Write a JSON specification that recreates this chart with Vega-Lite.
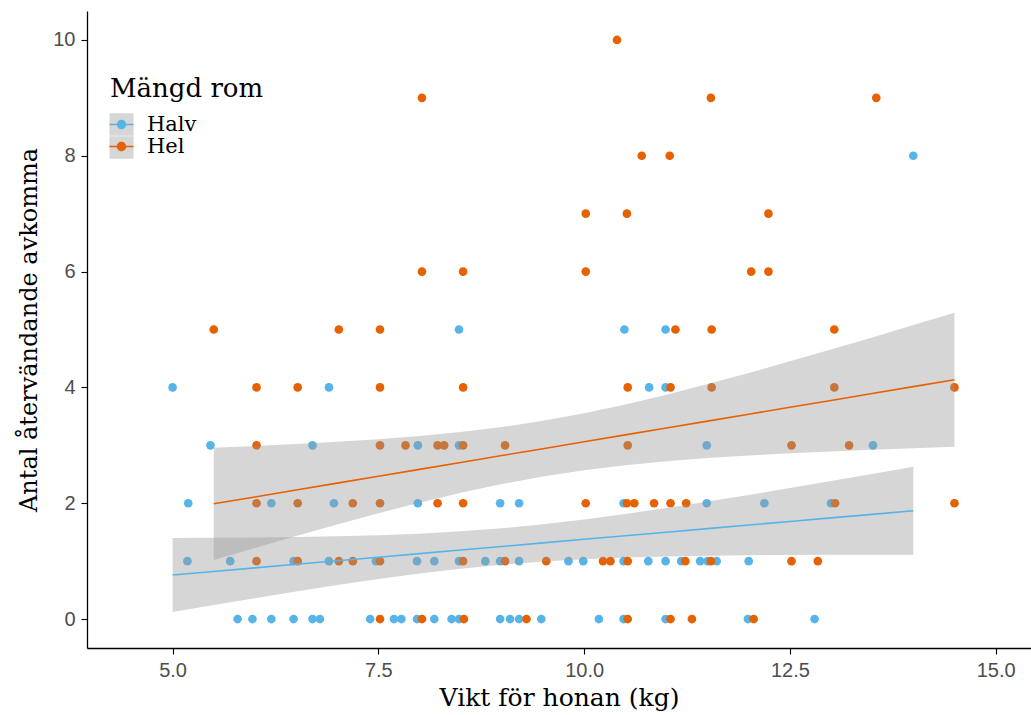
{
  "$schema": "https://vega.github.io/schema/vega-lite/v6.json",
  "width": 944,
  "height": 637,
  "autosize": {"type": "none"},
  "padding": {"left": 87, "top": 11, "right": 0, "bottom": 67},
  "background": "white",
  "datasets": {
    "pts": [
      {"x":5.79,"y":0,"g":"Halv"},{"x":5.97,"y":0,"g":"Halv"},{"x":6.20,"y":0,"g":"Halv"},{"x":6.47,"y":0,"g":"Halv"},{"x":6.70,"y":0,"g":"Halv"},{"x":6.79,"y":0,"g":"Halv"},{"x":7.40,"y":0,"g":"Halv"},{"x":7.69,"y":0,"g":"Halv"},{"x":7.78,"y":0,"g":"Halv"},{"x":7.97,"y":0,"g":"Halv"},{"x":8.18,"y":0,"g":"Halv"},{"x":8.39,"y":0,"g":"Halv"},{"x":8.48,"y":0,"g":"Halv"},{"x":8.98,"y":0,"g":"Halv"},{"x":9.10,"y":0,"g":"Halv"},{"x":9.21,"y":0,"g":"Halv"},{"x":9.48,"y":0,"g":"Halv"},{"x":10.18,"y":0,"g":"Halv"},{"x":10.48,"y":0,"g":"Halv"},{"x":10.99,"y":0,"g":"Halv"},{"x":11.99,"y":0,"g":"Halv"},{"x":12.80,"y":0,"g":"Halv"},
      {"x":5.18,"y":1,"g":"Halv"},{"x":5.70,"y":1,"g":"Halv"},{"x":6.47,"y":1,"g":"Halv"},{"x":6.90,"y":1,"g":"Halv"},{"x":7.47,"y":1,"g":"Halv"},{"x":7.97,"y":1,"g":"Halv"},{"x":8.18,"y":1,"g":"Halv"},{"x":8.48,"y":1,"g":"Halv"},{"x":8.80,"y":1,"g":"Halv"},{"x":8.98,"y":1,"g":"Halv"},{"x":9.21,"y":1,"g":"Halv"},{"x":9.81,"y":1,"g":"Halv"},{"x":9.99,"y":1,"g":"Halv"},{"x":10.48,"y":1,"g":"Halv"},{"x":10.78,"y":1,"g":"Halv"},{"x":10.99,"y":1,"g":"Halv"},{"x":11.18,"y":1,"g":"Halv"},{"x":11.41,"y":1,"g":"Halv"},{"x":11.50,"y":1,"g":"Halv"},{"x":11.61,"y":1,"g":"Halv"},{"x":12.00,"y":1,"g":"Halv"},
      {"x":5.19,"y":2,"g":"Halv"},{"x":6.20,"y":2,"g":"Halv"},{"x":6.96,"y":2,"g":"Halv"},{"x":7.98,"y":2,"g":"Halv"},{"x":8.98,"y":2,"g":"Halv"},{"x":9.21,"y":2,"g":"Halv"},{"x":10.48,"y":2,"g":"Halv"},{"x":11.49,"y":2,"g":"Halv"},{"x":12.19,"y":2,"g":"Halv"},{"x":13.00,"y":2,"g":"Halv"},
      {"x":5.46,"y":3,"g":"Halv"},{"x":6.70,"y":3,"g":"Halv"},{"x":7.98,"y":3,"g":"Halv"},{"x":8.48,"y":3,"g":"Halv"},{"x":11.49,"y":3,"g":"Halv"},{"x":13.51,"y":3,"g":"Halv"},
      {"x":5.00,"y":4,"g":"Halv"},{"x":6.90,"y":4,"g":"Halv"},{"x":10.79,"y":4,"g":"Halv"},{"x":10.99,"y":4,"g":"Halv"},
      {"x":8.48,"y":5,"g":"Halv"},{"x":10.49,"y":5,"g":"Halv"},{"x":10.99,"y":5,"g":"Halv"},
      {"x":14.00,"y":8,"g":"Halv"},
      {"x":7.52,"y":0,"g":"Hel"},{"x":8.03,"y":0,"g":"Hel"},{"x":8.54,"y":0,"g":"Hel"},{"x":9.30,"y":0,"g":"Hel"},{"x":10.53,"y":0,"g":"Hel"},{"x":11.05,"y":0,"g":"Hel"},{"x":11.31,"y":0,"g":"Hel"},{"x":12.06,"y":0,"g":"Hel"},
      {"x":6.02,"y":1,"g":"Hel"},{"x":6.52,"y":1,"g":"Hel"},{"x":7.02,"y":1,"g":"Hel"},{"x":7.19,"y":1,"g":"Hel"},{"x":7.52,"y":1,"g":"Hel"},{"x":8.53,"y":1,"g":"Hel"},{"x":9.04,"y":1,"g":"Hel"},{"x":9.54,"y":1,"g":"Hel"},{"x":10.23,"y":1,"g":"Hel"},{"x":10.32,"y":1,"g":"Hel"},{"x":10.53,"y":1,"g":"Hel"},{"x":11.23,"y":1,"g":"Hel"},{"x":11.54,"y":1,"g":"Hel"},{"x":12.52,"y":1,"g":"Hel"},{"x":12.84,"y":1,"g":"Hel"},
      {"x":6.02,"y":2,"g":"Hel"},{"x":6.52,"y":2,"g":"Hel"},{"x":7.19,"y":2,"g":"Hel"},{"x":7.52,"y":2,"g":"Hel"},{"x":8.22,"y":2,"g":"Hel"},{"x":8.53,"y":2,"g":"Hel"},{"x":10.02,"y":2,"g":"Hel"},{"x":10.52,"y":2,"g":"Hel"},{"x":10.61,"y":2,"g":"Hel"},{"x":10.85,"y":2,"g":"Hel"},{"x":11.05,"y":2,"g":"Hel"},{"x":11.24,"y":2,"g":"Hel"},{"x":13.05,"y":2,"g":"Hel"},{"x":14.50,"y":2,"g":"Hel"},
      {"x":6.02,"y":3,"g":"Hel"},{"x":7.52,"y":3,"g":"Hel"},{"x":7.83,"y":3,"g":"Hel"},{"x":8.22,"y":3,"g":"Hel"},{"x":8.30,"y":3,"g":"Hel"},{"x":8.53,"y":3,"g":"Hel"},{"x":9.04,"y":3,"g":"Hel"},{"x":10.53,"y":3,"g":"Hel"},{"x":12.52,"y":3,"g":"Hel"},{"x":13.22,"y":3,"g":"Hel"},
      {"x":6.02,"y":4,"g":"Hel"},{"x":6.52,"y":4,"g":"Hel"},{"x":7.52,"y":4,"g":"Hel"},{"x":8.53,"y":4,"g":"Hel"},{"x":10.53,"y":4,"g":"Hel"},{"x":11.05,"y":4,"g":"Hel"},{"x":11.55,"y":4,"g":"Hel"},{"x":13.04,"y":4,"g":"Hel"},{"x":14.50,"y":4,"g":"Hel"},
      {"x":5.50,"y":5,"g":"Hel"},{"x":7.02,"y":5,"g":"Hel"},{"x":7.52,"y":5,"g":"Hel"},{"x":11.11,"y":5,"g":"Hel"},{"x":11.55,"y":5,"g":"Hel"},{"x":13.04,"y":5,"g":"Hel"},
      {"x":8.03,"y":6,"g":"Hel"},{"x":8.53,"y":6,"g":"Hel"},{"x":10.02,"y":6,"g":"Hel"},{"x":12.03,"y":6,"g":"Hel"},{"x":12.24,"y":6,"g":"Hel"},
      {"x":10.02,"y":7,"g":"Hel"},{"x":10.52,"y":7,"g":"Hel"},{"x":12.24,"y":7,"g":"Hel"},
      {"x":10.70,"y":8,"g":"Hel"},{"x":11.04,"y":8,"g":"Hel"},
      {"x":8.03,"y":9,"g":"Hel"},{"x":11.54,"y":9,"g":"Hel"},{"x":13.55,"y":9,"g":"Hel"},
      {"x":10.40,"y":10,"g":"Hel"}
    ],
    "bands": [
      {"x":5.0,"fit":0.760,"lo":0.120,"hi":1.400,"g":"Halv"},
      {"x":5.5,"fit":0.822,"lo":0.241,"hi":1.402,"g":"Halv"},
      {"x":6.0,"fit":0.883,"lo":0.360,"hi":1.407,"g":"Halv"},
      {"x":6.5,"fit":0.945,"lo":0.475,"hi":1.415,"g":"Halv"},
      {"x":7.0,"fit":1.007,"lo":0.586,"hi":1.428,"g":"Halv"},
      {"x":7.5,"fit":1.068,"lo":0.690,"hi":1.446,"g":"Halv"},
      {"x":8.0,"fit":1.130,"lo":0.786,"hi":1.475,"g":"Halv"},
      {"x":8.5,"fit":1.192,"lo":0.870,"hi":1.514,"g":"Halv"},
      {"x":9.0,"fit":1.253,"lo":0.939,"hi":1.567,"g":"Halv"},
      {"x":9.5,"fit":1.315,"lo":0.994,"hi":1.637,"g":"Halv"},
      {"x":10.0,"fit":1.377,"lo":1.034,"hi":1.720,"g":"Halv"},
      {"x":10.5,"fit":1.438,"lo":1.062,"hi":1.814,"g":"Halv"},
      {"x":11.0,"fit":1.500,"lo":1.082,"hi":1.918,"g":"Halv"},
      {"x":11.5,"fit":1.562,"lo":1.095,"hi":2.029,"g":"Halv"},
      {"x":12.0,"fit":1.623,"lo":1.103,"hi":2.143,"g":"Halv"},
      {"x":12.5,"fit":1.685,"lo":1.108,"hi":2.262,"g":"Halv"},
      {"x":13.0,"fit":1.747,"lo":1.111,"hi":2.383,"g":"Halv"},
      {"x":13.5,"fit":1.808,"lo":1.110,"hi":2.506,"g":"Halv"},
      {"x":14.0,"fit":1.870,"lo":1.110,"hi":2.630,"g":"Halv"},
      {"x":5.5,"fit":1.990,"lo":1.020,"hi":2.960,"g":"Hel"},
      {"x":6.0,"fit":2.109,"lo":1.229,"hi":2.989,"g":"Hel"},
      {"x":6.5,"fit":2.228,"lo":1.434,"hi":3.022,"g":"Hel"},
      {"x":7.0,"fit":2.347,"lo":1.634,"hi":3.060,"g":"Hel"},
      {"x":7.5,"fit":2.466,"lo":1.827,"hi":3.105,"g":"Hel"},
      {"x":8.0,"fit":2.585,"lo":2.010,"hi":3.160,"g":"Hel"},
      {"x":8.5,"fit":2.704,"lo":2.179,"hi":3.229,"g":"Hel"},
      {"x":9.0,"fit":2.823,"lo":2.331,"hi":3.315,"g":"Hel"},
      {"x":9.5,"fit":2.942,"lo":2.461,"hi":3.423,"g":"Hel"},
      {"x":10.0,"fit":3.061,"lo":2.569,"hi":3.553,"g":"Hel"},
      {"x":10.5,"fit":3.180,"lo":2.655,"hi":3.705,"g":"Hel"},
      {"x":11.0,"fit":3.299,"lo":2.724,"hi":3.874,"g":"Hel"},
      {"x":11.5,"fit":3.418,"lo":2.779,"hi":4.057,"g":"Hel"},
      {"x":12.0,"fit":3.537,"lo":2.824,"hi":4.250,"g":"Hel"},
      {"x":12.5,"fit":3.656,"lo":2.862,"hi":4.450,"g":"Hel"},
      {"x":13.0,"fit":3.775,"lo":2.895,"hi":4.655,"g":"Hel"},
      {"x":13.5,"fit":3.894,"lo":2.924,"hi":4.864,"g":"Hel"},
      {"x":14.0,"fit":4.013,"lo":2.950,"hi":5.076,"g":"Hel"},
      {"x":14.5,"fit":4.132,"lo":2.974,"hi":5.290,"g":"Hel"}
    ]
  },
  "layer": [
    {
      "data": {"name": "bands"},
      "transform": [{"filter": "datum.x < 0"}],
      "mark": {"type": "area"},
      "encoding": {
        "x": {"field": "x", "type": "quantitative", "scale": {"domain": [3.96, 15.43], "nice": false, "zero": false}},
        "y": {"field": "lo", "type": "quantitative", "scale": {"domain": [-0.5, 10.5], "nice": false, "zero": false}},
        "y2": {"field": "hi"},
        "fill": {
          "field": "g", "type": "nominal",
          "scale": {"domain": ["Halv", "Hel"], "range": ["#D6D6D6", "#D6D6D6"]},
          "legend": {
            "orient": "none", "legendX": 23, "legendY": 65,
            "title": "Mängd rom", "titleOpacity": 0, "labelOpacity": 0,
            "symbolType": "M-1.07,-1L1.07,-1L1.07,1L-1.07,1Z",
            "symbolSize": 506, "symbolStrokeWidth": 0, "symbolOpacity": 1
          }
        }
      }
    },
    {
      "data": {"name": "pts"},
      "mark": {"type": "point", "filled": true, "opacity": 1, "size": 75, "strokeWidth": 0},
      "encoding": {
        "x": {"field": "x", "type": "quantitative", "scale": {"domain": [3.96, 15.43], "nice": false, "zero": false},
              "axis": {"title": "Vikt för honan (kg)", "values": [5, 7.5, 10, 12.5, 15], "format": ".1f"}},
        "y": {"field": "y", "type": "quantitative", "scale": {"domain": [-0.5, 10.5], "nice": false, "zero": false},
              "axis": {"title": "Antal återvändande avkomma", "values": [0, 2, 4, 6, 8, 10], "format": "d"}},
        "color": {
          "field": "g", "type": "nominal",
          "scale": {"range": ["#56B4E9", "#E66100"]},
          "legend": {
            "orient": "none", "legendX": 23, "legendY": 65,
            "title": "Mängd rom",
            "symbolType": "M-1.07,-0.07L1.07,-0.07L1.07,0.07L-1.07,0.07Z M0.42,0A0.42,0.42,0,1,1,-0.42,0A0.42,0.42,0,1,1,0.42,0Z",
            "symbolSize": 506, "symbolStrokeWidth": 0, "symbolOpacity": 1
          }
        }
      }
    },
    {
      "data": {"name": "bands"},
      "mark": {"type": "area", "color": "#999999", "opacity": 0.4},
      "encoding": {
        "x": {"field": "x", "type": "quantitative"},
        "y": {"field": "lo", "type": "quantitative"},
        "y2": {"field": "hi"},
        "detail": {"field": "g", "type": "nominal"}
      }
    },
    {
      "data": {"name": "bands"},
      "mark": {"type": "line", "strokeWidth": 1.6},
      "encoding": {
        "x": {"field": "x", "type": "quantitative"},
        "y": {"field": "fit", "type": "quantitative"},
        "color": {"field": "g", "type": "nominal", "legend": null}
      }
    }
  ],
  "config": {
    "view": {"stroke": null},
    "axis": {
      "grid": false,
      "domainColor": "#000000",
      "domainWidth": 1.3,
      "tickColor": "#000000",
      "tickWidth": 1.1,
      "tickSize": 6,
      "labelFont": "Liberation Sans",
      "labelFontSize": 20,
      "labelColor": "#4D4D4D",
      "labelPadding": 6,
      "titleFont": "DejaVu Serif",
      "titleFontSize": 24,
      "titleFontWeight": "normal",
      "titleColor": "#000000"
    },
    "axisX": {"titlePadding": 5, "titleFontSize": 25},
    "axisY": {"titlePadding": 11},
    "legend": {
      "padding": 0,
      "titleFont": "DejaVu Serif",
      "titleFontSize": 26,
      "titleFontWeight": "normal",
      "titleColor": "#000000",
      "titlePadding": 11,
      "labelFont": "DejaVu Serif",
      "labelFontSize": 21,
      "labelColor": "#000000",
      "labelOffset": 14,
      "rowPadding": 0
    }
  }
}
